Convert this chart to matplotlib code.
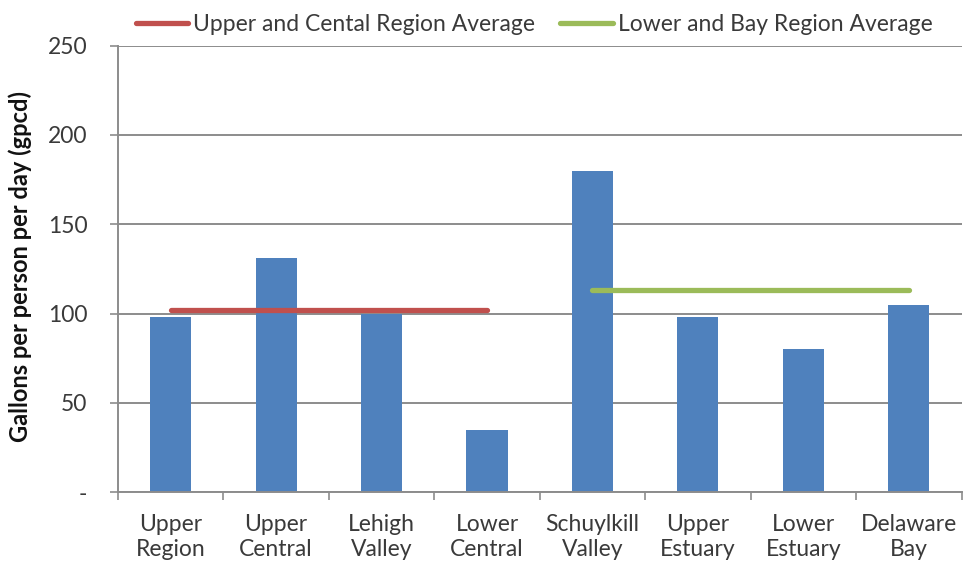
import matplotlib.pyplot as plt
import numpy as np

regions = ['Upper\nRegion', 'Upper\nCentral', 'Lehigh\nValley', 'Lower\nCentral',
           'Schuylkill\nValley', 'Upper\nEstuary', 'Lower\nEstuary', 'Delaware\nBay']
gpcd = [98, 131, 100, 35, 180, 98, 80, 105]

upper_avg = 102
lower_avg = 113
upper_span = [0, 3]   # from Upper Region to Lower Central
lower_span = [4, 7]   # from Schuylkill Valley to Delaware Bay

plt.rcParams['font.family'] = ['Lato', 'DejaVu Sans']

fig = plt.figure(figsize=(9.63, 5.69), dpi=100)
ax = fig.add_axes([0.1225, 0.135, 0.876, 0.785])

x = np.arange(len(regions))
ax.bar(x, gpcd, width=0.39, color='#4F81BD', zorder=2)

ax.plot(upper_span, [upper_avg, upper_avg], color='#C0504D', lw=3.8,
        solid_capstyle='round', zorder=3, label='Upper and Cental Region Average')
ax.plot(lower_span, [lower_avg, lower_avg], color='#9BBB59', lw=3.8,
        solid_capstyle='round', zorder=3, label='Lower and Bay Region Average')

ax.set_xlim(-0.5, len(regions) - 0.5)
ax.set_ylim(0, 250)
ax.set_yticks([0, 50, 100, 150, 200, 250])
ax.set_yticklabels(['-', '50', '100', '150', '200', '250'])
ax.yaxis.grid(True, color='#8C8C8C', lw=1.4, zorder=0)
ax.set_axisbelow(True)

ax.set_xticks(x)
ax.set_xticklabels(regions, fontsize=16.5, color='#3a3a3a', linespacing=1.2)
ax.tick_params(axis='x', length=0, pad=16)
ax.set_xticks(np.arange(-0.5, len(regions) + 0.5, 1), minor=True)
ax.tick_params(axis='x', which='minor', length=6, width=1.2, color='#8C8C8C')
ax.tick_params(axis='y', length=6, width=1.2, color='#8C8C8C', labelsize=16.5,
               labelcolor='#3a3a3a', pad=16)

for s in ['top', 'right']:
    ax.spines[s].set_visible(False)
for s in ['left', 'bottom']:
    ax.spines[s].set_color('#8C8C8C')
    ax.spines[s].set_linewidth(1.4)

ax.set_ylabel('Gallons per person per day (gpcd)', fontsize=17, fontweight='bold',
              color='#111111')
ax.yaxis.set_label_coords(-0.102, 0.506)

fig.legend(loc='upper center', bbox_to_anchor=(0.5545, 1.012), ncol=2, frameon=False,
           fontsize=16.5, handlelength=2.3, handletextpad=0.2, columnspacing=1.1,
           labelcolor='#3a3a3a')

fig.savefig('out.png', dpi=100)
